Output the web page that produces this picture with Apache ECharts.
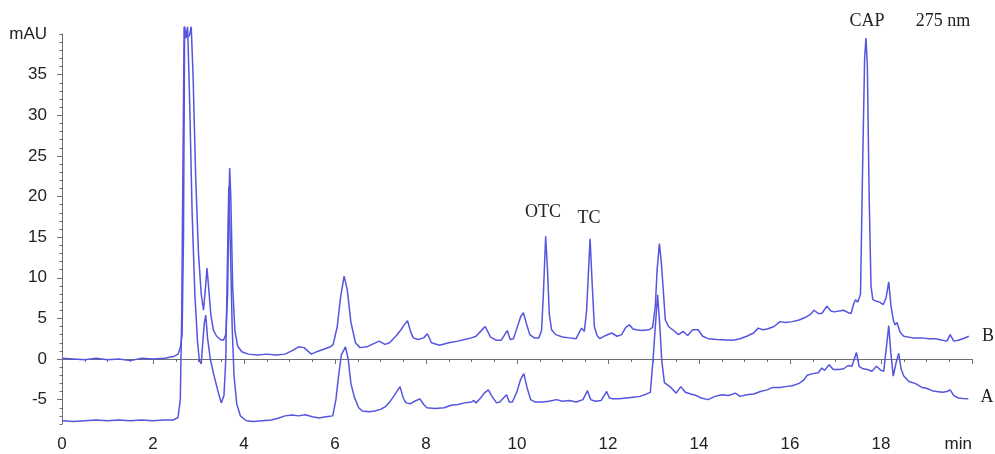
<!DOCTYPE html>
<html>
<head>
<meta charset="utf-8">
<script src="https://cdn.jsdelivr.net/npm/echarts@6/dist/echarts.min.js"></script>
<style>
html,body{margin:0;padding:0;background:#fff;}
#chart{width:995px;height:454px;}
</style>
</head>
<body>
<div id="chart"></div>
<script>
// Chromatogram traces: [time (min), absorbance (mAU)]
const traceB = [[0.00,0.1],[0.25,0.0],[0.50,-0.1],[0.75,0.1],[1.00,-0.1],[1.25,0.0],[1.50,-0.2],[1.75,0.1],[2.00,0.0],[2.25,0.1],[2.45,0.3],[2.55,0.6],[2.60,1.4],[2.64,3.0],[2.67,15],[2.695,40.9],[2.73,39.6],[2.77,39.4],[2.80,39.8],[2.84,40.9],[2.88,35],[2.94,22],[3.00,13],[3.06,8],[3.11,6.0],[3.15,8.5],[3.186,11.2],[3.22,9],[3.27,5.5],[3.33,3.5],[3.40,2.8],[3.48,2.4],[3.55,2.3],[3.60,3.0],[3.64,8],[3.665,18],[3.685,23.5],[3.71,20],[3.75,9],[3.80,3.5],[3.86,1.6],[3.95,0.9],[4.10,0.6],[4.30,0.5],[4.50,0.6],[4.70,0.5],[4.90,0.6],[5.05,1.0],[5.20,1.5],[5.32,1.4],[5.48,0.6],[5.60,0.9],[5.75,1.2],[5.90,1.5],[5.96,1.8],[6.05,4],[6.12,7.5],[6.20,10.2],[6.27,8.5],[6.35,4.5],[6.45,2.0],[6.55,1.4],[6.70,1.5],[6.85,1.9],[6.97,2.2],[7.10,1.8],[7.20,2.0],[7.35,2.9],[7.45,3.6],[7.52,4.2],[7.595,4.7],[7.66,3.4],[7.72,2.6],[7.82,2.4],[7.95,2.6],[8.03,3.1],[8.12,2.0],[8.30,1.7],[8.50,2.0],[8.70,2.2],[8.85,2.4],[9.00,2.6],[9.10,2.8],[9.20,3.4],[9.30,4.0],[9.42,2.7],[9.55,2.3],[9.65,2.3],[9.72,2.9],[9.787,3.5],[9.85,2.4],[9.92,2.5],[10.00,3.8],[10.08,5.2],[10.14,5.7],[10.20,4.5],[10.28,3.0],[10.38,2.6],[10.48,2.6],[10.54,3.5],[10.58,8],[10.63,15.1],[10.67,11],[10.71,5.5],[10.76,3.6],[10.85,3.0],[11.00,2.7],[11.15,2.6],[11.30,2.5],[11.37,3.3],[11.42,3.8],[11.48,3.4],[11.53,6],[11.606,14.8],[11.65,9.5],[11.70,4],[11.76,2.9],[11.82,2.5],[11.95,2.9],[12.08,3.2],[12.20,2.8],[12.30,3.0],[12.39,3.9],[12.47,4.2],[12.55,3.7],[12.62,3.6],[12.75,3.5],[12.90,3.6],[12.98,3.9],[13.04,6.5],[13.08,11],[13.13,14.2],[13.17,12],[13.21,8.9],[13.26,4.8],[13.33,4.0],[13.42,3.6],[13.55,3.0],[13.65,3.4],[13.75,2.9],[13.86,3.6],[13.98,3.6],[14.08,2.8],[14.20,2.5],[14.40,2.4],[14.60,2.35],[14.75,2.3],[14.90,2.5],[15.05,2.8],[15.20,3.2],[15.30,3.8],[15.40,3.6],[15.50,3.7],[15.65,4.0],[15.78,4.6],[15.90,4.5],[16.05,4.6],[16.20,4.8],[16.33,5.1],[16.45,5.5],[16.53,6.0],[16.62,5.6],[16.70,5.6],[16.81,6.5],[16.90,5.9],[16.97,5.8],[17.08,5.9],[17.18,6.0],[17.28,5.7],[17.34,5.6],[17.40,6.8],[17.44,7.3],[17.49,7.0],[17.55,8],[17.60,25],[17.64,37],[17.67,39.5],[17.70,36],[17.74,20],[17.78,9],[17.82,7.3],[17.90,7.1],[17.97,7.0],[18.05,6.7],[18.11,7.5],[18.17,9.5],[18.22,6.5],[18.27,4.8],[18.31,4.2],[18.35,4.5],[18.42,3.3],[18.50,2.8],[18.70,2.6],[18.90,2.6],[19.05,2.5],[19.20,2.5],[19.35,2.3],[19.45,2.2],[19.52,3.0],[19.60,2.2],[19.70,2.3],[19.80,2.5],[19.93,2.8]];

const traceA = [[0.00,-7.6],[0.25,-7.7],[0.50,-7.6],[0.75,-7.5],[1.00,-7.6],[1.25,-7.5],[1.50,-7.6],[1.75,-7.5],[2.00,-7.6],[2.25,-7.5],[2.45,-7.5],[2.55,-7.2],[2.60,-5],[2.63,5],[2.66,25],[2.685,40.9],[2.72,39.5],[2.76,40.9],[2.80,33],[2.86,18],[2.92,8],[2.98,2],[3.02,-0.2],[3.06,-0.6],[3.10,2.5],[3.13,4.5],[3.16,5.4],[3.20,2.5],[3.26,0],[3.33,-1.8],[3.42,-3.8],[3.50,-5.4],[3.56,-4.5],[3.60,0],[3.63,10],[3.665,21.2],[3.70,14],[3.74,4],[3.78,-2],[3.84,-5.5],[3.92,-7],[4.05,-7.6],[4.20,-7.7],[4.40,-7.6],[4.60,-7.5],[4.75,-7.3],[4.90,-7.0],[5.05,-6.9],[5.20,-7.0],[5.35,-6.85],[5.50,-7.1],[5.65,-7.25],[5.80,-7.1],[5.95,-7.0],[6.02,-5],[6.08,-2],[6.14,0.5],[6.23,1.5],[6.29,0],[6.35,-3],[6.42,-4.6],[6.52,-6.0],[6.60,-6.4],[6.75,-6.5],[6.87,-6.4],[7.00,-6.2],[7.10,-5.9],[7.20,-5.3],[7.30,-4.5],[7.43,-3.4],[7.50,-4.8],[7.56,-5.4],[7.66,-5.5],[7.75,-5.2],[7.866,-4.9],[7.95,-5.6],[8.02,-6.0],[8.20,-6.1],[8.40,-6.0],[8.55,-5.7],[8.70,-5.6],[8.85,-5.4],[9.00,-5.3],[9.05,-5.1],[9.10,-5.4],[9.20,-4.8],[9.28,-4.2],[9.37,-3.8],[9.45,-4.6],[9.55,-5.4],[9.62,-5.3],[9.77,-4.4],[9.83,-5.3],[9.90,-5.3],[10.00,-4.0],[10.08,-2.5],[10.15,-1.8],[10.22,-3.5],[10.30,-5.0],[10.40,-5.3],[10.55,-5.3],[10.70,-5.2],[10.87,-5.0],[11.00,-5.2],[11.15,-5.1],[11.30,-5.3],[11.45,-5.0],[11.55,-3.9],[11.62,-5.0],[11.72,-5.2],[11.85,-5.1],[11.97,-4.0],[12.03,-4.8],[12.10,-4.9],[12.25,-4.9],[12.40,-4.8],[12.55,-4.7],[12.70,-4.6],[12.85,-4.3],[12.93,-4.1],[12.99,-0.1],[13.04,4],[13.09,7.9],[13.14,4],[13.18,-0.1],[13.24,-2.9],[13.38,-3.5],[13.50,-4.2],[13.60,-3.4],[13.70,-4.1],[13.82,-4.3],[13.94,-4.5],[14.05,-4.8],[14.20,-5.0],[14.35,-4.6],[14.50,-4.4],[14.65,-4.5],[14.80,-4.2],[14.90,-4.6],[15.05,-4.4],[15.20,-4.3],[15.35,-4.0],[15.50,-3.8],[15.62,-3.5],[15.78,-3.5],[15.90,-3.4],[16.05,-3.3],[16.20,-3.0],[16.30,-2.6],[16.38,-2.0],[16.50,-1.8],[16.62,-1.7],[16.70,-1.1],[16.76,-1.4],[16.86,-0.7],[16.95,-1.3],[17.08,-1.3],[17.18,-1.2],[17.28,-0.8],[17.36,-0.9],[17.46,0.8],[17.52,-0.9],[17.60,-1.2],[17.70,-1.3],[17.80,-1.5],[17.90,-0.9],[18.00,-1.4],[18.06,-1.5],[18.12,1.5],[18.17,4.1],[18.22,0.5],[18.27,-2.1],[18.33,-0.5],[18.39,0.7],[18.44,-1.2],[18.50,-2.1],[18.62,-2.8],[18.75,-3.0],[18.90,-3.5],[19.00,-3.6],[19.12,-3.9],[19.22,-4.0],[19.35,-4.1],[19.45,-4.0],[19.52,-3.8],[19.60,-4.5],[19.70,-4.8],[19.80,-4.85],[19.92,-4.9]];

const yLabelValues = [-5, 0, 5, 10, 15, 20, 25, 30, 35, 40];
const yUnitLabel = 'mAU';
const xUnitLabel = 'min';
const yMinorValues = [];
for (let v = -8; v <= 40; v++) yMinorValues.push(v);

const annotations = [
  {text: 'CAP', x: 867, y: 21},
  {text: '275 nm', x: 943, y: 21},
  {text: 'OTC', x: 543, y: 212},
  {text: 'TC', x: 589, y: 218},
  {text: 'B', x: 988, y: 336},
  {text: 'A', x: 987, y: 397}
];

const lineColor = '#5555e0';
const axisColor = '#6e6e6e';
const textColor = '#222';

const chart = echarts.init(document.getElementById('chart'), null, {renderer: 'canvas'});
chart.setOption({
  animation: false,
  backgroundColor: '#fff',
  grid: {left: 62, right: 23, top: 34, bottom: 30, containLabel: false, outerBoundsMode: 'none'},
  xAxis: {
    type: 'value', min: 0, max: 20, interval: 2,
    axisLine: {show: true, lineStyle: {color: axisColor, width: 1}},
    axisTick: {show: true, length: 5, lineStyle: {color: axisColor}},
    minorTick: {show: true, splitNumber: 4, length: 3, lineStyle: {color: axisColor}},
    splitLine: {show: false},
    axisLabel: {
      color: textColor, fontSize: 17, fontFamily: 'Liberation Sans, Arial, sans-serif', margin: 12,
      showMaxLabel: true, alignMaxLabel: 'right',
      formatter: v => v === 20 ? xUnitLabel : String(v)
    }
  },
  yAxis: [{
    type: 'value', min: -8, max: 40,
    axisLine: {show: true, lineStyle: {color: axisColor, width: 1}},
    axisTick: {show: true, length: 5, customValues: yLabelValues.slice(0, -1), lineStyle: {color: axisColor}},
    splitLine: {show: false},
    axisLabel: {
      color: textColor, fontSize: 17, fontFamily: 'Liberation Sans, Arial, sans-serif', margin: 15,
      customValues: yLabelValues,
      formatter: v => v === 40 ? yUnitLabel : String(v)
    }
  }, {
    type: 'value', min: -8, max: 40, position: 'left',
    axisLine: {show: false},
    axisTick: {show: true, length: 2.5, customValues: yMinorValues, lineStyle: {color: axisColor}},
    axisLabel: {show: false},
    splitLine: {show: false}
  }],
  series: [
    {name: 'B', type: 'line', data: traceB, showSymbol: false, symbol: 'none', clip: false,
     lineStyle: {color: lineColor, width: 1.5}, itemStyle: {color: lineColor}},
    {name: 'A', type: 'line', data: traceA, showSymbol: false, symbol: 'none', clip: false,
     lineStyle: {color: lineColor, width: 1.5}, itemStyle: {color: lineColor}}
  ],
  graphic: annotations.map(a => ({
    type: 'text', x: a.x, y: a.y, silent: true,
    style: {text: a.text, fill: textColor, font: '18px "Liberation Serif", "Times New Roman", serif',
            align: 'center', verticalAlign: 'middle'}
  }))
});
</script>
</body>
</html>
